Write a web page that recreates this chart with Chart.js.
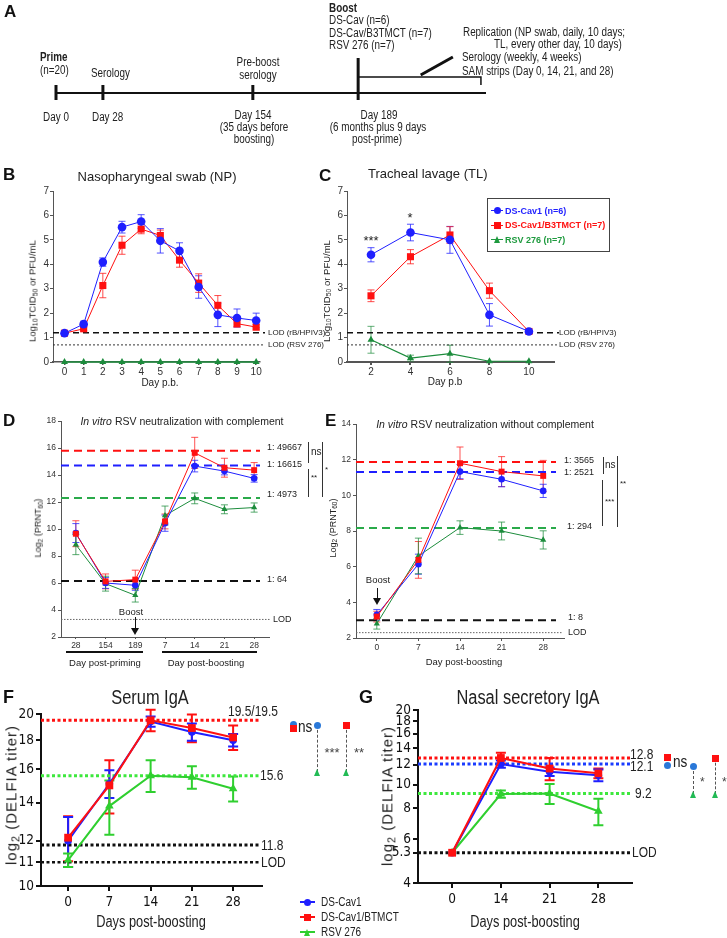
<!DOCTYPE html>
<html>
<head>
<meta charset="utf-8">
<title>RSV boost study</title>
<script src="https://cdn.jsdelivr.net/npm/chart.js@4.4.1/dist/chart.umd.min.js"></script>
<style>
  html, body { margin: 0; padding: 0; background: #fff; }
  #page { position: relative; width: 727px; height: 938px; overflow: hidden; font-family: "Liberation Sans", Arial, sans-serif; color: #222; }
  #page canvas { position: absolute; left: 0; top: 0; }
  .t { position: absolute; white-space: nowrap; line-height: 1.15; }
  .t sub { font-size: 0.72em; line-height: 0; vertical-align: -0.25em; }
  .letter { font-weight: bold; font-size: 17px; color: #111; }
</style>
</head>
<body>
<div id="page"></div>
<script>
// ---- data ----
// B: nasopharyngeal swab, log10 titer by day post-boost
const npDays = [0, 1, 2, 3, 4, 5, 6, 7, 8, 9, 10];
const npCav1 = [1.18, 1.55, 4.09, 5.52, 5.75, 4.96, 4.55, 3.07, 1.93, 1.80, 1.70];
const npCav1Err = [0.03, 0.12, 0.17, 0.24, 0.28, 0.50, 0.33, 0.46, 0.48, 0.37, 0.30];
const npB3 = [1.18, 1.36, 3.13, 4.78, 5.44, 5.18, 4.17, 3.23, 2.32, 1.57, 1.43];
const npB3Err = [0.03, 0.08, 0.50, 0.37, 0.19, 0.22, 0.29, 0.38, 0.40, 0.14, 0.12];
const npRsv = [0, 0, 0, 0, 0, 0, 0, 0, 0, 0, 0];

// C: tracheal lavage
const tlDays = [2, 4, 6, 8, 10];
const tlCav1 = [4.39, 5.30, 5.00, 1.93, 1.25];
const tlCav1Err = [0.29, 0.34, 0.55, 0.46, 0];
const tlB3 = [2.71, 4.31, 5.20, 2.92, 1.25];
const tlB3Err = [0.24, 0.29, 0.34, 0.31, 0];
const tlRsv = [0.91, 0.16, 0.34, 0.03, 0.03];
const tlRsvErr = [0.55, 0.12, 0.35, 0, 0];
const lodVals = [1.2, 0.7];

// D: neutralization with complement, log2 PRNT60
const dLabels = ['28', '154', '189', '7', '14', '21', '28'];
const dCav1 = [9.70, 6.00, 5.83, 10.43, 14.66, 14.29, 13.75];
const dCav1Err = [0.70, 0.40, 0.37, 0.60, 0.43, 0.28, 0.28];
const dB3 = [9.65, 6.12, 6.25, 10.56, 15.64, 14.54, 14.36];
const dB3Err = [0.96, 0.55, 0.70, 0.55, 1.15, 0.70, 0.56];
const dRsv = [8.84, 5.95, 5.09, 11.00, 12.27, 11.46, 11.59];
const dRsvErr = [0.74, 0.55, 0.50, 0.70, 0.40, 0.33, 0.34];
const dRefVals = [15.8, 14.7, 12.3, 6.15, 3.3];
const dRefLabels = ['1: 49667', '1: 16615', '1: 4973', '1: 64', 'LOD'];

// E: neutralization without complement
const eLabels = ['0', '7', '14', '21', '28'];
const eCav1 = [3.3, 6.14, 11.33, 10.90, 10.25];
const eCav1Err = [0.30, 0.56, 0.40, 0.42, 0.37];
const eB3 = [3.2, 6.38, 11.80, 11.33, 11.09];
const eB3Err = [0.30, 1.03, 0.91, 0.84, 0.87];
const eRsv = [2.8, 6.60, 8.19, 8.00, 7.50];
const eRsvErr = [0.30, 1.00, 0.38, 0.50, 0.51];
const eRefVals = [11.87, 11.31, 8.17, 3.0, 2.3];
const eRefLabels = ['1: 3565', '1: 2521', '1: 294', '1: 8', 'LOD'];

// F: serum IgA, log2 DELFIA titer
const fDays = [0, 7, 14, 21, 28];
const fTicks = [10, 11, 12, 14, 16, 18, 20];
const fCav1 = [12.0, 15.1, 19.4, 18.6, 18.0];
const fCav1Err = [1.2, 0.85, 0.4, 0.65, 0.45];
const fB3 = [12.15, 15.0, 19.5, 18.9, 18.2];
const fB3Err = [1.1, 1.6, 0.85, 1.05, 0.9];
const fRsv = [11.1, 13.8, 15.6, 15.5, 14.8];
const fRsvErr = [0.3, 1.5, 1.0, 0.7, 0.75];
const fRefVals = [19.5, 15.6, 11.8, 11];
const fRefLabels = ['19.5/19.5', '15.6', '11.8', 'LOD'];

// G: nasal secretory IgA
const gLabels = ['0', '14', '21', '28'];
const gTicks = [4, 5.3, 6, 8, 10, 12, 14, 16, 18, 20];
const gCav1 = [5.3, 12.1, 11.27, 10.9];
const gCav1Err = [0, 0.4, 0.45, 0.6];
const gB3 = [5.3, 12.8, 11.6, 11.1];
const gB3Err = [0, 0.65, 1.2, 0.5];
const gRsv = [5.3, 9.15, 9.2, 7.8];
const gRsvErr = [0, 0.3, 0.85, 0.95];
const gRefVals = [12.8, 12.1, 9.2, 5.3];
const gRefLabels = ['12.8', '12.1', '9.2', 'LOD'];

// A: schedule, schematic positions along the timeline
const schedDays = ['Day 0', 'Day 28', 'Day 154', 'Day 189'];
const schedPos = [0, 1.02, 4.28, 6.57];

// ---- setup ----
const W = 727, H = 938;
const BLUE = '#1f1fff', RED = '#ff1010', DGREEN = '#1c8c3c', LGREEN = '#2fcf2f';
const SANS = '"Liberation Sans", Arial, sans-serif';
const COND = '"DejaVu Sans Condensed", "Liberation Sans", Arial, sans-serif';
Chart.defaults.font.family = SANS;

const page = document.getElementById('page');

// text anchored at (x, y): align l/c/r horizontally, centred vertically
function txt(html, x, y, opt = {}) {
  const d = document.createElement('div');
  d.className = 't ' + (opt.cls || '');
  d.innerHTML = html;
  d.style.left = x + 'px';
  d.style.top = y + 'px';
  const al = opt.align || 'l';
  const ax = { l: '0', c: '-50%', r: '-100%' }[al];
  let tf = 'translate(' + ax + ', -50%)';
  if (opt.rot) tf += ' rotate(-90deg)';
  if (opt.sx) {
    tf += ' scaleX(' + opt.sx + ')';
    d.style.transformOrigin = { l: '0 50%', c: '50% 50%', r: '100% 50%' }[al];
  }
  d.style.transform = tf;
  if (opt.size) d.style.fontSize = opt.size + 'px';
  if (opt.color) d.style.color = opt.color;
  if (opt.bold) d.style.fontWeight = 'bold';
  if (opt.css) d.style.cssText += opt.css;
  page.appendChild(d);
  return d;
}

function box(x, y, w, h, css) {
  const d = document.createElement('div');
  d.style.cssText = 'position:absolute;left:' + x + 'px;top:' + y + 'px;width:' + w + 'px;height:' + h + 'px;' + css;
  page.appendChild(d);
}

function marker(kind, cx, cy, color, size) {
  if (kind === 'circle') box(cx - size / 2, cy - size / 2, size, size, 'background:' + color + ';border-radius:50%;');
  else if (kind === 'rect') box(cx - size / 2, cy - size / 2, size, size, 'background:' + color + ';');
  else box(cx - size / 2, cy - size / 2, 0, 0, 'border-left:' + (size / 2) + 'px solid transparent;border-right:' + (size / 2) + 'px solid transparent;border-bottom:' + size + 'px solid ' + color + ';');
}

function canvas() {
  const c = document.createElement('canvas');
  c.width = W; c.height = H;
  page.appendChild(c);
  return c;
}

// error bars drawn from each dataset's values through the y scale
const errorBars = {
  id: 'errorBars',
  beforeDatasetsDraw(chart) {
    const ctx = chart.ctx, ys = chart.scales.y;
    chart.data.datasets.forEach((ds, i) => {
      if (!ds.errors) return;
      const meta = chart.getDatasetMeta(i);
      ctx.save();
      ctx.strokeStyle = ds.errColor || ds.borderColor;
      ctx.lineWidth = ds.errWidth || 1;
      meta.data.forEach((pt, j) => {
        const e = ds.errors[j];
        if (!e) return;
        const top = ys.getPixelForValue(ds.vals[j] + e);
        const bot = ys.getPixelForValue(ds.vals[j] - e);
        const cw = ds.cap || 3;
        ctx.beginPath();
        ctx.moveTo(pt.x, top); ctx.lineTo(pt.x, bot);
        ctx.moveTo(pt.x - cw, top); ctx.lineTo(pt.x + cw, top);
        ctx.moveTo(pt.x - cw, bot); ctx.lineTo(pt.x + cw, bot);
        ctx.stroke();
      });
      ctx.restore();
    });
  }
};

// horizontal reference lines (means / LOD) with their labels
function refLines(lines) {
  return {
    id: 'refLines',
    beforeDatasetsDraw(chart) {
      const ctx = chart.ctx, ca = chart.chartArea, ys = chart.scales.y;
      lines.forEach(l => {
        const y = ys.getPixelForValue(l.v);
        ctx.save();
        ctx.strokeStyle = l.color;
        ctx.lineWidth = l.w;
        ctx.setLineDash(l.dash || []);
        ctx.beginPath();
        ctx.moveTo(ca.left, y);
        ctx.lineTo(ca.right + (l.end || 0), y);
        ctx.stroke();
        if (l.label) {
          ctx.setLineDash([]);
          ctx.fillStyle = '#222';
          ctx.font = l.font;
          ctx.textBaseline = 'middle';
          ctx.translate(ca.right + l.lx, y + (l.ly || 0));
          ctx.scale(l.sx || 1, 1);
          ctx.fillText(l.label, 0, 0);
        }
        ctx.restore();
      });
    }
  };
}

function series(xs, ys, errs, color, style, r, w, extra) {
  return Object.assign({
    data: xs ? xs.map((x, i) => ({ x: x, y: ys[i] })) : ys,
    vals: ys, errors: errs,
    borderColor: color, backgroundColor: color,
    pointStyle: style, pointRadius: r, pointBorderWidth: 0,
    borderWidth: w, tension: 0, clip: false, showLine: true
  }, extra || {});
}

function axis(o) {
  const a = {
    type: o.type || 'linear',
    offset: !!o.offset,
    grid: { drawOnChartArea: false, drawTicks: true, tickLength: o.tick != null ? o.tick : 4, color: o.color || '#555', lineWidth: o.width || 1 },
    border: { display: true, color: o.color || '#555', width: o.width || 1 },
    ticks: { color: o.tcolor || '#333', font: o.font, padding: o.pad != null ? o.pad : 2, maxRotation: 0, minRotation: 0, autoSkip: false }
  };
  if (o.min != null) a.min = o.min;
  if (o.max != null) a.max = o.max;
  if (o.labels) a.labels = o.labels;
  if (o.step) a.ticks.stepSize = o.step;
  if (o.cb) a.ticks.callback = o.cb;
  if (o.at) a.afterBuildTicks = s => { s.ticks = o.at.map(v => ({ value: v })); };
  return a;
}

// chart whose plotting area sits exactly at area {l,t,r,b} of the page
function plot(area, type, datasets, xAxis, yAxis, plugins) {
  xAxis.afterFit = s => { s.height = H - area.b; };
  yAxis.afterFit = s => { s.width = area.l; };
  return new Chart(canvas(), {
    type: type,
    data: { datasets: datasets, labels: xAxis.labels },
    options: {
      responsive: false, animation: false, events: [],
      layout: { autoPadding: false, padding: { left: 0, top: area.t, right: W - area.r, bottom: 0 } },
      scales: { x: xAxis, y: yAxis },
      plugins: { legend: { display: false }, tooltip: { enabled: false } }
    },
    plugins: [errorBars].concat(plugins || [])
  });
}

// ---- A: schedule ----
const tickTop = [8, 8, 8, 35];
const schedSets = [
  { data: [{ x: 0, y: 0 }, { x: 9.35, y: 0 }], borderWidth: 2 },
  { data: [{ x: 6.57, y: 16 }, { x: 9.24, y: 16 }, { x: 9.24, y: 8 }], borderWidth: 1.5 },
  { data: [{ x: 7.93, y: 18 }, { x: 8.63, y: 36 }], borderWidth: 3 }
].concat(schedPos.map((p, i) => ({ data: [{ x: p, y: -7 }, { x: p, y: tickTop[i] }], borderWidth: 3 })));
schedSets.forEach(s => Object.assign(s, { showLine: true, pointRadius: 0, borderColor: '#111', clip: false }));
new Chart(canvas(), {
  type: 'scatter',
  data: { datasets: schedSets },
  options: {
    responsive: false, animation: false, events: [],
    layout: { autoPadding: false, padding: { left: 56, top: 53, right: W - 486, bottom: H - 103 } },
    scales: { x: { display: false, min: 0, max: 9.35 }, y: { display: false, min: -10, max: 40 } },
    plugins: { legend: { display: false }, tooltip: { enabled: false } }
  }
});
const aT = (o) => Object.assign({ size: 12.5, sx: 0.79 }, o || {});
txt('A', 4, 12, { cls: 'letter' });
txt('Boost', 329, 8, aT({ bold: true }));
txt('DS-Cav (n=6)', 329, 20, aT());
txt('DS-Cav/B3TMCT (n=7)', 329, 33, aT());
txt('RSV 276 (n=7)', 329, 45, aT());
txt('Prime', 40, 57, aT({ bold: true }));
txt('(n=20)', 40, 70, aT());
txt('Serology', 91, 73, aT());
txt('Pre-boost', 258, 62, aT({ align: 'c' }));
txt('serology', 258, 75, aT({ align: 'c' }));
txt('Replication (NP swab, daily, 10 days;', 463, 32, aT());
txt('TL, every other day, 10 days)', 494, 44, aT());
txt('Serology (weekly, 4 weeks)', 462, 57, aT());
txt('SAM strips (Day 0, 14, 21, and 28)', 462, 71, aT());
txt(schedDays[0], 56, 117, aT({ align: 'c' }));
txt(schedDays[1], 92, 117, aT());
txt(schedDays[2], 253, 115, aT({ align: 'c' }));
txt('(35 days before', 254, 127, aT({ align: 'c' }));
txt('boosting)', 254, 139, aT({ align: 'c' }));
txt(schedDays[3], 379, 115, aT({ align: 'c' }));
txt('(6 months plus 9 days', 378, 127, aT({ align: 'c' }));
txt('post-prime)', 377, 139, aT({ align: 'c' }));

// ---- B and C ----
const f10 = { size: 10 };
const lodFont = '8px ' + SANS;
const lodLines = (lx) => [
  { v: lodVals[0], color: '#111', w: 1.6, dash: [6, 4], end: 5, label: 'LOD (rB/HPIV3)', lx: lx, font: lodFont },
  { v: lodVals[1], color: '#333', w: 1, dash: [2, 2], end: 5, label: 'LOD (RSV 276)', lx: lx, font: lodFont }
];
const eb = (c) => ({ errColor: c, cap: 3.5 });
plot({ l: 53, t: 191, r: 260, b: 362 }, 'line', [
  series(npDays, npCav1, npCav1Err, BLUE, 'circle', 4.3, 1, eb('rgba(40,40,255,0.8)')),
  series(npDays, npB3, npB3Err, RED, 'rect', 5, 1, eb('rgba(255,30,30,0.8)')),
  series(npDays, npRsv, null, DGREEN, 'triangle', 4, 1.5)
], axis({ min: -0.6, max: 10.2, at: npDays, font: f10, tick: 3, pad: 1, width: 1.5 }),
   axis({ min: 0, max: 7, step: 1, font: f10, tick: 3, pad: 1 }),
   [refLines(lodLines(8))]);

plot({ l: 347, t: 191, r: 554, b: 362 }, 'line', [
  series(tlDays, tlCav1, tlCav1Err, BLUE, 'circle', 4.3, 1, eb('rgba(40,40,255,0.8)')),
  series(tlDays, tlB3, tlB3Err, RED, 'rect', 5, 1, eb('rgba(255,30,30,0.8)')),
  series(tlDays, tlRsv, tlRsvErr, DGREEN, 'triangle', 4, 1.2, eb('rgba(30,140,60,0.7)'))
], axis({ min: 0.785, max: 11.27, at: tlDays, font: f10, tick: 3, pad: 1, width: 2 }),
   axis({ min: 0, max: 7, step: 1, font: f10, tick: 3, pad: 1 }),
   [refLines(lodLines(5))]);

txt('B', 3, 175, { cls: 'letter' });
txt('C', 319, 176, { cls: 'letter' });
txt('Nasopharyngeal swab (NP)', 157, 177, { align: 'c', size: 13 });
txt('Tracheal lavage (TL)', 368, 174, { size: 13 });
txt('Log<sub>10</sub>TCID<sub>50</sub> or PFU/mL', 33, 291, { align: 'c', rot: true, size: 9.5 });
txt('Log<sub>10</sub>TCID<sub>50</sub> or PFU/mL', 327, 291, { align: 'c', rot: true, size: 9.5 });
txt('Day p.b.', 160, 383, { align: 'c', size: 10 });
txt('Day p.b', 445, 382, { align: 'c', size: 10 });
txt('***', 371, 241, { align: 'c', size: 13 });
txt('*', 410, 218, { align: 'c', size: 13 });
// legend of C
box(487, 198, 123, 54, 'border:1px solid #444;box-sizing:border-box;');
[['DS-Cav1 (n=6)', BLUE, 'circle', 210], ['DS-Cav1/B3TMCT (n=7)', RED, 'rect', 224.5], ['RSV 276 (n=7)', '#1e9a3e', 'tri', 239]].forEach(r => {
  box(491, r[3], 12, 1, 'background:' + r[1] + ';');
  marker(r[2], 497, r[3] + 0.5, r[1], 7);
  txt(r[0], 505, r[3] + 0.5, { size: 9, bold: true, color: r[1] });
});

// ---- D and E ----
const f8 = { size: 8.5 };
const refStyle = [
  { color: RED, w: 2, dash: [8, 5] },
  { color: BLUE, w: 2, dash: [8, 5] },
  { color: '#2aaa4a', w: 2, dash: [8, 5] },
  { color: '#111', w: 2, dash: [8, 5] },
  { color: '#666', w: 1, dash: [1.5, 1.5] }
];
const refFont = '9px ' + SANS;
const dLabelOff = [[-2, -3], [-2, -1], [-2, -3], [-2, -1], [4, 0]];
plot({ l: 61, t: 421, r: 269, b: 637 }, 'line', [
  series(null, dB3, dB3Err, RED, 'rect', 4.2, 1, eb('rgba(255,40,40,0.8)')),
  series(null, dCav1, dCav1Err, BLUE, 'circle', 3.3, 1, eb('rgba(40,40,255,0.8)')),
  series(null, dRsv, dRsvErr, DGREEN, 'triangle', 3.6, 1, eb('rgba(30,140,60,0.75)'))
], axis({ type: 'category', labels: dLabels, offset: true, font: f8, tick: 2, pad: 2 }),
   axis({ min: 2, max: 18, step: 2, font: f8, tick: 3, pad: 2 }),
   [refLines(dRefVals.map((v, i) => Object.assign({ v: v, end: i === 4 ? 2 : -9, label: dRefLabels[i], lx: dLabelOff[i][0], ly: dLabelOff[i][1], font: refFont }, refStyle[i])))]);

const eLabelOff = [[0, -1], [0, 1], [3, -1], [4, -3], [4, 0]];
plot({ l: 356, t: 424, r: 564, b: 638 }, 'line', [
  series(null, eB3, eB3Err, RED, 'rect', 4.2, 1, eb('rgba(255,40,40,0.8)')),
  series(null, eCav1, eCav1Err, BLUE, 'circle', 3.3, 1, eb('rgba(40,40,255,0.8)')),
  series(null, eRsv, eRsvErr, DGREEN, 'triangle', 3.6, 1, eb('rgba(30,140,60,0.75)'))
], axis({ type: 'category', labels: eLabels, offset: true, font: f8, tick: 3, pad: 2 }),
   axis({ min: 2, max: 14, step: 2, font: f8, tick: 3, pad: 2 }),
   [refLines(eRefVals.map((v, i) => Object.assign({ v: v, end: i === 4 ? -1 : -8, label: eRefLabels[i], lx: eLabelOff[i][0], ly: eLabelOff[i][1], font: refFont }, refStyle[i])))]);

txt('D', 3, 421, { cls: 'letter' });
txt('E', 325, 421, { cls: 'letter' });
txt('<i>In vitro</i> RSV neutralization with complement', 182, 421, { align: 'c', size: 10.5 });
txt('<i>In vitro</i> RSV neutralization without complement', 485, 424, { align: 'c', size: 10.5 });
txt('Log<sub>2</sub> (PRNT<sub>60</sub>)', 38, 528, { align: 'c', rot: true, size: 9 });
txt('Log<sub>2</sub> (PRNT<sub>60</sub>)', 333, 528, { align: 'c', rot: true, size: 9 });
// significance brackets D
box(308, 442, 1, 21, 'background:#333;');
box(308, 469, 1, 28, 'background:#333;');
box(322, 442, 1, 55, 'background:#333;');
txt('ns', 311, 452, { size: 10 });
txt('**', 311, 478, { size: 8 });
txt('*', 325, 470, { size: 8 });
// significance brackets E
box(603, 457, 1, 17, 'background:#333;');
box(602, 480, 1, 46, 'background:#333;');
box(617, 456, 1, 71, 'background:#333;');
txt('ns', 605, 465, { size: 10 });
txt('***', 605, 502, { size: 8 });
txt('**', 620, 484, { size: 8 });
// boost arrows
txt('Boost', 131, 612, { align: 'c', size: 9.5 });
box(134.5, 617, 1, 12, 'background:#111;');
box(131, 628, 0, 0, 'border-left:4px solid transparent;border-right:4px solid transparent;border-top:7px solid #111;');
txt('Boost', 378, 580, { align: 'c', size: 9.5 });
box(376.5, 588, 1, 12, 'background:#111;');
box(373, 598, 0, 0, 'border-left:4px solid transparent;border-right:4px solid transparent;border-top:7px solid #111;');
// x titles D/E
box(66, 651, 77, 2, 'background:#111;');
box(162, 651, 95, 2, 'background:#111;');
txt('Day post-priming', 105, 663, { align: 'c', size: 9.5 });
txt('Day post-boosting', 206, 663, { align: 'c', size: 9.5 });
txt('Day post-boosting', 464, 662, { align: 'c', size: 9.5 });

// ---- F and G ----
const f14 = { size: 13.5, family: COND };
const dotted = { w: 3, dash: [3, 2.5], font: '15px ' + SANS, sx: 0.8 };
const ebF = (c) => ({ errColor: c, cap: 5, errWidth: 2 });
plot({ l: 41, t: 714, r: 262, b: 886 }, 'line', [
  series(fDays, fB3, fB3Err, RED, 'rect', 5.5, 2, ebF(RED)),
  series(fDays, fCav1, fCav1Err, BLUE, 'circle', 3.8, 2, ebF(BLUE)),
  series(fDays, fRsv, fRsvErr, LGREEN, 'triangle', 5, 2, ebF(LGREEN))
], axis({ min: -4.6, max: 32.9, at: fDays, font: f14, tick: 5, pad: 3, width: 2, color: '#111', tcolor: '#111' }),
   axis({ type: 'logarithmic', min: 10, max: 20, at: fTicks, cb: v => String(v), font: f14, tick: 5, pad: 2, width: 2, color: '#111', tcolor: '#111' }),
   [refLines([
     Object.assign({ v: fRefVals[0], color: RED, end: -2, label: fRefLabels[0], lx: -34, ly: -8 }, dotted),
     Object.assign({ v: fRefVals[1], color: '#3de83d', end: -2, label: fRefLabels[1], lx: -2, ly: 0 }, dotted),
     Object.assign({ v: fRefVals[2], color: '#111', end: -2, label: fRefLabels[2], lx: -1, ly: 1 }, dotted),
     Object.assign({ v: fRefVals[3], color: '#111', end: -2, label: fRefLabels[3], lx: -1, ly: 1 }, dotted, { w: 2.5 })
   ])]);

plot({ l: 418, t: 710, r: 632, b: 883 }, 'line', [
  series([0, 1, 2, 3], gB3, gB3Err, RED, 'rect', 5.5, 2, ebF(RED)),
  series([0, 1, 2, 3], gCav1, gCav1Err, BLUE, 'circle', 3.8, 2, ebF(BLUE)),
  series([0, 1, 2, 3], gRsv, gRsvErr, LGREEN, 'triangle', 5, 2, ebF(LGREEN))
], axis({ min: -0.7, max: 3.69, at: [0, 1, 2, 3], cb: v => gLabels[v], font: f14, tick: 5, pad: 3, width: 2, color: '#111', tcolor: '#111' }),
   axis({ type: 'logarithmic', min: 4, max: 20, at: gTicks, cb: v => String(v), font: f14, tick: 5, pad: 2, width: 2, color: '#111', tcolor: '#111' }),
   [refLines([
     Object.assign({ v: gRefVals[0], color: RED, end: -2, label: gRefLabels[0], lx: -2, ly: -3 }, dotted),
     Object.assign({ v: gRefVals[1], color: '#1a3cff', end: -2, label: gRefLabels[1], lx: -2, ly: 3 }, dotted),
     Object.assign({ v: gRefVals[2], color: '#3de83d', end: -2, label: gRefLabels[2], lx: 3, ly: 0 }, dotted),
     Object.assign({ v: gRefVals[3], color: '#111', end: -2, label: gRefLabels[3], lx: 0, ly: 0 }, dotted)
   ])]);

txt('F', 3, 697, { cls: 'letter', css: 'font-size:18px;' });
txt('G', 359, 697, { cls: 'letter', css: 'font-size:18px;' });
txt('Serum IgA', 150, 697, { align: 'c', size: 20, sx: 0.82 });
txt('Nasal secretory IgA', 528, 697, { align: 'c', size: 20, sx: 0.82 });
txt('log<sub>2</sub> (DELFIA titer)', 11, 795, { align: 'c', rot: true, css: 'font-size:15px;letter-spacing:1px;' });
txt('log<sub>2</sub> (DELFIA titer)', 387, 796, { align: 'c', rot: true, css: 'font-size:15px;letter-spacing:1px;' });
txt('Days post-boosting', 151, 922, { align: 'c', size: 16, sx: 0.8 });
txt('Days post-boosting', 525, 922, { align: 'c', size: 16, sx: 0.8 });

// F/G comparison marks
const SBLUE = '#2a78d8', MGREEN = '#22bb55';
marker('circle', 293, 724, SBLUE, 7);
marker('rect', 293, 728.5, RED, 7);
txt('ns', 298, 727, { size: 17, sx: 0.8 });
box(317, 725, 0, 47, 'border-left:1px dashed #555;');
marker('circle', 317.5, 725, SBLUE, 7);
marker('tri', 317.5, 772, MGREEN, 7);
txt('***', 332, 753, { align: 'c', size: 13, color: '#444' });
box(346, 725, 0, 47, 'border-left:1px dashed #555;');
marker('rect', 346.5, 725, RED, 7);
marker('tri', 346.5, 772, MGREEN, 7);
txt('**', 359, 753, { align: 'c', size: 13, color: '#444' });

marker('rect', 667, 757.5, RED, 7);
marker('circle', 667, 765, SBLUE, 7);
txt('ns', 673, 762, { size: 17, sx: 0.8 });
box(693, 766, 0, 28, 'border-left:1px dashed #555;');
marker('circle', 693.5, 766, SBLUE, 7);
marker('tri', 693.5, 794, MGREEN, 7);
txt('*', 700, 783, { size: 12, color: '#444' });
box(715, 758, 0, 36, 'border-left:1px dashed #555;');
marker('rect', 715.5, 758, RED, 7);
marker('tri', 715.5, 794, MGREEN, 7);
txt('*', 722, 783, { size: 12, color: '#444' });

// bottom legend
[['DS-Cav1', BLUE, 'circle', 902], ['DS-Cav1/BTMCT', RED, 'rect', 917], ['RSV 276', LGREEN, 'tri', 932]].forEach(r => {
  box(300, r[3] - 1, 15, 2, 'background:' + r[1] + ';');
  marker(r[2], 307.5, r[3], r[1], 7);
  txt(r[0], 321, r[3], { size: 12.5, sx: 0.8 });
});
</script>
</body>
</html>
